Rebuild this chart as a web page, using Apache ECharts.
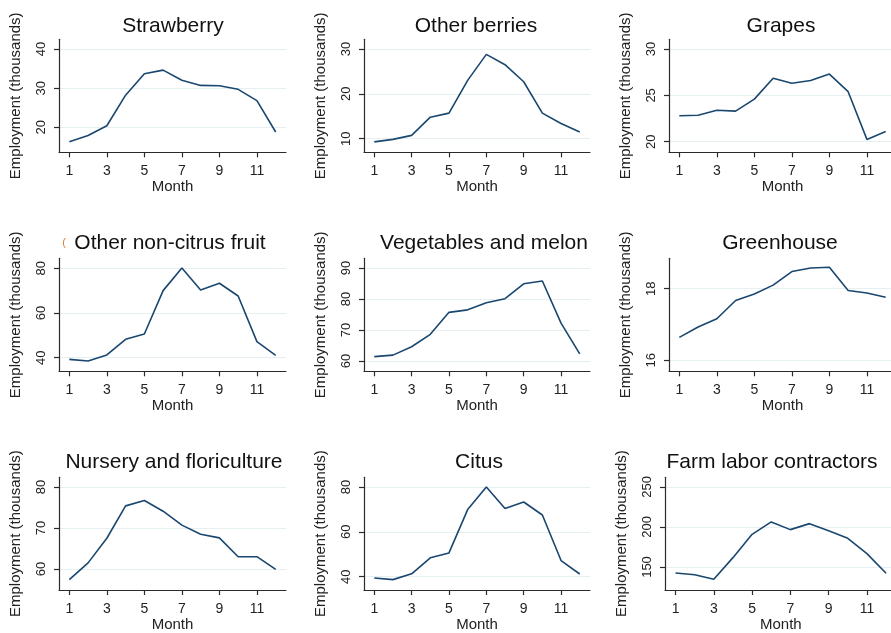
<!DOCTYPE html>
<html>
<head>
<meta charset="utf-8">
<script src="https://cdn.jsdelivr.net/npm/echarts@6/dist/echarts.min.js"></script>
<style>
html,body{margin:0;padding:0;background:#fff;}
#chart{width:891px;height:633px;}
</style>
</head>
<body>
<div id="chart"></div>
<script>
// ---- data ----
const months = [1,2,3,4,5,6,7,8,9,10,11,12];
const xTicks = [1,3,5,7,9,11];
const panelTitles = ['Strawberry','Other berries','Grapes','Other non-citrus fruit','Vegetables and melon','Greenhouse','Nursery and floriculture','Citus','Farm labor contractors'];
const strawberry   = [16.3,17.9,20.4,28.2,33.7,34.6,32.0,30.7,30.6,29.7,26.8,18.8];
const otherBerries = [9.3,9.85,10.75,14.8,15.7,23.0,28.8,26.5,22.7,15.7,13.4,11.5];
const grapes       = [22.8,22.85,23.4,23.3,24.6,26.85,26.3,26.6,27.3,25.4,20.25,21.1];
const nonCitrus    = [39.25,38.5,41.2,48.2,50.6,70.0,80.1,70.3,73.3,67.6,47.2,41.0];
const vegetables   = [61.4,61.9,64.6,68.6,75.7,76.5,78.8,80.1,84.9,85.8,72.2,62.3];
const greenhouse   = [16.64,16.93,17.16,17.67,17.85,18.10,18.48,18.58,18.60,17.95,17.88,17.76];
const nursery      = [57.4,61.5,67.5,75.4,76.7,74.1,70.7,68.5,67.6,63.0,63.0,59.9];
const citus        = [39.4,38.7,41.3,48.4,50.6,69.9,80.0,70.4,73.3,67.5,47.2,41.2];
const farmLabor    = [142.5,140.4,134.6,161.7,190.8,206.3,196.7,204.2,195.4,185.8,166.7,142.1];

const strawberryTicks   = [20,30,40];
const otherBerriesTicks = [10,20,30];
const grapesTicks       = [20,25,30];
const nonCitrusTicks    = [40,60,80];
const vegetablesTicks   = [60,70,80,90];
const greenhouseTicks   = [16,18];
const nurseryTicks      = [60,70,80];
const citusTicks        = [40,60,80];
const farmLaborTicks    = [150,200,250];

const yTitle = 'Employment (thousands)';
const xTitle = 'Month';

// ---- layout ----
const seriesList = [strawberry,otherBerries,grapes,nonCitrus,vegetables,greenhouse,nursery,citus,farmLabor];
const tickList = [strawberryTicks,otherBerriesTicks,grapesTicks,nonCitrusTicks,vegetablesTicks,greenhouseTicks,nurseryTicks,citusTicks,farmLaborTicks];
const yRanges = [[13.61,42.48],[6.97,32.16],[18.86,31.05],[33.9,84.47],[56.68,93.13],[15.69,18.85],[54.88,82.37],[34.07,84.3],[121.25,262.1]];
const grids = [
  {left:59, top:39.3, width:227, height:113},
  {left:364,top:39.3, width:226, height:113},
  {left:669,top:39.3, width:227, height:113},
  {left:59, top:258.3,width:227, height:113},
  {left:364,top:258.3,width:226, height:113},
  {left:669,top:258.3,width:227, height:113},
  {left:59, top:477.3,width:227, height:112.7},
  {left:364,top:477.3,width:226, height:112.7},
  {left:665,top:477.3,width:231.6,height:112.7}
];
const titlePos = [[173,26],[476,26],[781,26],[170,243],[484,243],[780,243],[174,462],[479,462],[772,462]];

const FONT = '"Liberation Sans", Arial, Helvetica, sans-serif';
const AX = '#2b2b2b';

const option = {
  animation: false,
  backgroundColor: '#fff',
  grid: grids.map(g => Object.assign({containLabel:false, outerBoundsMode:'none'}, g)),
  xAxis: grids.map((g,i) => ({
    type:'value', gridIndex:i, min:0.45, max:12.55,
    name: xTitle, nameLocation:'middle', nameGap:26,
    nameTextStyle:{fontFamily:FONT, fontSize:15, color:'#222'},
    axisLine:{show:true, onZero:false, lineStyle:{color:AX, width:1.2}},
    axisTick:{show:true, length:5, customValues:xTicks, lineStyle:{color:AX, width:1.2}},
    axisLabel:{customValues:xTicks, margin:12, fontFamily:FONT, fontSize:14, color:'#222'},
    splitLine:{show:false}
  })),
  yAxis: grids.map((g,i) => ({
    type:'value', gridIndex:i, min:yRanges[i][0], max:yRanges[i][1],
    name: yTitle, nameLocation:'middle', nameGap:36, nameRotate:90,
    nameTextStyle:{fontFamily:FONT, fontSize:15, color:'#222'},
    axisLine:{show:true, onZero:false, lineStyle:{color:AX, width:1.2}},
    axisTick:{show:true, length:5, customValues:tickList[i], lineStyle:{color:AX, width:1.2}},
    axisLabel:{customValues:tickList[i], rotate:90, margin:11, fontFamily:FONT, fontSize:13, color:'#222'},
    splitLine:{show:true, lineStyle:{color:'#e6eff1', width:1}}
  })),
  series: seriesList.map((vals,i) => ({
    type:'line', xAxisIndex:i, yAxisIndex:i, showSymbol:false, symbol:'none',
    lineStyle:{color:'#1a476f', width:1.6}, z:5,
    data: months.map((m,k) => [m, vals[k]])
  })),
  graphic: panelTitles.map((t,i) => ({
    type:'text', x:titlePos[i][0], y:titlePos[i][1],
    style:{text:t, font:'21px ' + FONT, fill:'#111', textAlign:'center', textVerticalAlign:'middle'}
  })).concat([{
    type:'text', x:64, y:243,
    style:{text:'(', font:'11px ' + FONT, fill:'#e07b39', textAlign:'center', textVerticalAlign:'middle'}
  }])
};

const chart = echarts.init(document.getElementById('chart'), null, {renderer:'canvas'});
chart.setOption(option);
</script>
</body>
</html>
